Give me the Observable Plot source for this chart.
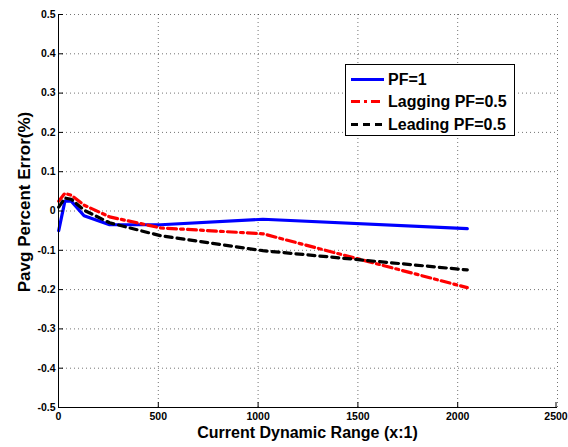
<!DOCTYPE html>
<html><head><meta charset="utf-8">
<script src="https://cdn.jsdelivr.net/npm/d3@7"></script>
<script src="https://cdn.jsdelivr.net/npm/@observablehq/plot@0.6"></script>
<style>
body{margin:0;background:#fff;}
#chart{position:relative;width:568px;height:447px;font-family:"Liberation Sans",Arial,sans-serif;}
#chart svg{position:absolute;left:0;top:0;}
.legend{position:absolute;left:345px;top:64px;width:168px;height:70px;border:1px solid #000;background:#fff;}
.xlabel{position:absolute;left:58px;width:499px;top:423px;text-align:center;font-weight:bold;font-size:16px;line-height:20px;}
.ylabel{position:absolute;left:25px;top:202px;width:0;height:0;}
.ylabel div{position:absolute;transform:translate(-50%,-50%) rotate(-90deg);white-space:nowrap;font-weight:bold;font-size:17px;line-height:20px;}
</style></head><body><div id="chart"></div>
<script>
// Data
const ranges = [1, 32, 64, 128, 256, 512, 1024, 2048];
const pf1 = [-0.05, 0.025, 0.025, -0.012, -0.035, -0.035, -0.021, -0.045];
const lagging = [0.025, 0.045, 0.04, 0.015, -0.015, -0.043, -0.058, -0.195];
const leading = [0.01, 0.033, 0.03, 0.002, -0.03, -0.063, -0.101, -0.15];
const seriesNames = ["PF=1", "Lagging PF=0.5", "Leading PF=0.5"];
const xTicks = [0, 500, 1000, 1500, 2000, 2500];
const yTicks = [-0.5, -0.4, -0.3, -0.2, -0.1, 0, 0.1, 0.2, 0.3, 0.4, 0.5];
const xLabel = "Current Dynamic Range (x:1)";
const yLabel = "Pavg Percent Error(%)";

const colors = ["#0000ff", "#ff0000", "#000000"];
const dashes = [null, "9,4,3,4", "7,5"];
const seriesValues = [pf1, lagging, leading];

const rows = [];
seriesNames.forEach((name, s) => ranges.forEach((r, i) => rows.push({series: name, x: r, y: seriesValues[s][i]})));

const lineMarks = seriesNames.map((name, s) =>
  Plot.line(rows.filter(d => d.series === name), {x: "x", y: "y", stroke: colors[s], strokeWidth: 3.2, strokeDasharray: dashes[s], strokeLinejoin: "round"}));

const lastX = xTicks[xTicks.length - 1];
const plot = Plot.plot({
  width: 568, height: 447,
  marginLeft: 58, marginRight: 11, marginTop: 14, marginBottom: 40,
  style: {fontFamily: "'Liberation Sans', Arial, sans-serif", fontSize: "10.5px", fontWeight: "bold", color: "#000", background: "transparent"},
  x: {domain: [0, 2500]},
  y: {domain: [-0.5, 0.5]},
  marks: [
    Plot.gridX(xTicks, {stroke: "#000", strokeOpacity: 0.55, strokeDasharray: "1,3"}),
    Plot.gridY(yTicks, {stroke: "#000", strokeOpacity: 0.55, strokeDasharray: "1,3"}),
    ...lineMarks,
    Plot.ruleX([0], {stroke: "#000"}),
    Plot.ruleY([-0.5], {stroke: "#000"}),
    Plot.axisX(xTicks.slice(0, -1), {tickSize: -5, tickPadding: 10, label: null, tickFormat: d => String(d), fontWeight: "bold"}),
    Plot.axisX([lastX], {tickSize: -5, tickPadding: 10, label: null, tickFormat: d => String(d), fontWeight: "bold", dx: -1.5}),
    Plot.axisY(yTicks, {tickSize: -5, tickPadding: 8, label: null, tickFormat: d => String(d), fontWeight: "bold"})
  ]
});

const chart = document.getElementById("chart");
chart.appendChild(plot);

const xl = document.createElement("div"); xl.className = "xlabel"; xl.textContent = xLabel; chart.appendChild(xl);
const yl = document.createElement("div"); yl.className = "ylabel"; const yi = document.createElement("div"); yi.textContent = yLabel; yl.appendChild(yi); chart.appendChild(yl);

// Legend
const leg = document.createElement("div"); leg.className = "legend";
const ns = "http://www.w3.org/2000/svg";
const lsvg = document.createElementNS(ns, "svg");
lsvg.setAttribute("width", 168); lsvg.setAttribute("height", 70);
lsvg.style.position = "absolute"; lsvg.style.left = "0"; lsvg.style.top = "0";
const rowY = [14.5, 36.5, 59.5];
seriesNames.forEach((name, s) => {
  const ln = document.createElementNS(ns, "line");
  ln.setAttribute("x1", 5); ln.setAttribute("x2", 38);
  ln.setAttribute("y1", rowY[s]); ln.setAttribute("y2", rowY[s]);
  ln.setAttribute("stroke", colors[s]); ln.setAttribute("stroke-width", 3);
  if (dashes[s]) ln.setAttribute("stroke-dasharray", dashes[s]);
  lsvg.appendChild(ln);
  const tx = document.createElementNS(ns, "text");
  tx.setAttribute("x", 42); tx.setAttribute("y", rowY[s]);
  tx.setAttribute("dy", "0.36em");
  tx.setAttribute("font-family", "'Liberation Sans', Arial, sans-serif");
  tx.setAttribute("font-weight", "bold"); tx.setAttribute("font-size", 16);
  tx.textContent = name;
  lsvg.appendChild(tx);
});
leg.appendChild(lsvg);
chart.appendChild(leg);
</script></body></html>
